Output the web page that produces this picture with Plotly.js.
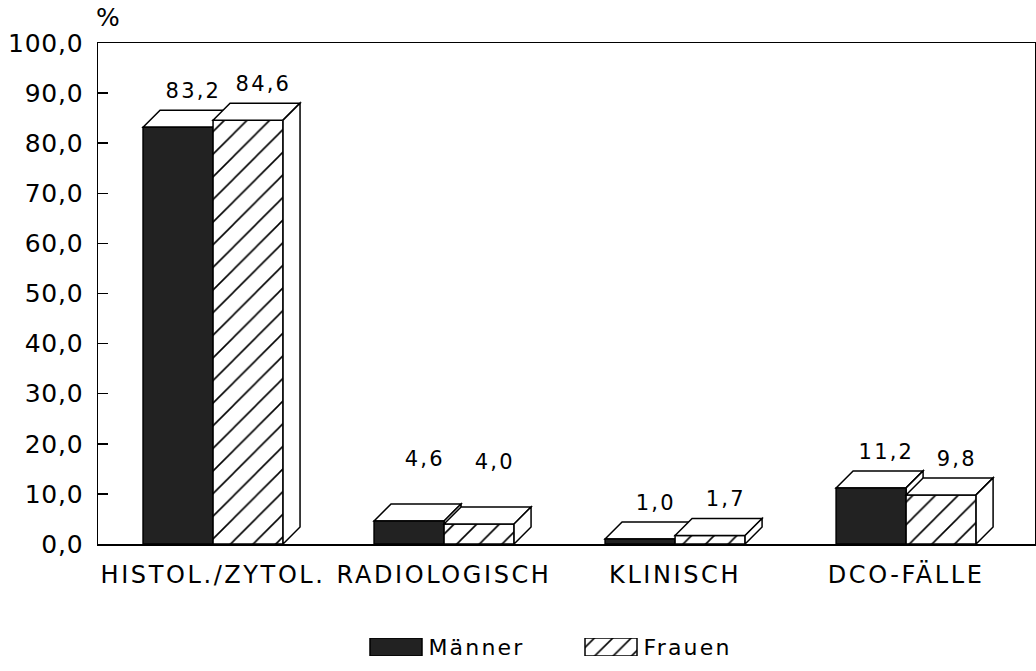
<!DOCTYPE html>
<html>
<head>
<meta charset="utf-8">
<script src="https://cdn.plot.ly/plotly-3.0.1.min.js"></script>
<style>
  html, body { margin: 0; padding: 0; background: #fff; }
  #chart { width: 1036px; height: 671px; }
  #chart .xtick text { letter-spacing: 2.6px; }
  #chart .ytick text { letter-spacing: 0.8px; }
  #chart .annotation-text { letter-spacing: 2.2px; }
</style>
</head>
<body>
<div id="chart"></div>
<script>
// ---- data ----
const categories = ['HISTOL./ZYTOL.', 'RADIOLOGISCH', 'KLINISCH', 'DCO-FÄLLE'];
const maenner = [83.2, 4.6, 1.0, 11.2];
const frauen  = [84.6, 4.0, 1.7, 9.8];
const seriesNames = ['Männer', 'Frauen'];

// ---- geometry / style ----
const W = 1036, H = 671;
const M = {l: 98, r: 1, t: 43, b: 11};
const plotW = W - M.l - M.r, plotH = H - M.t - M.b;
const xRange = [-0.498, 3.558];
const yRange = [0, 100];
const yDomain = [(H - M.b - 544) / plotH, 1];
const barW = 0.303;                 // bar width in category units
const depthPx = 17;                 // 3D depth in pixels
const pxPerX = plotW / (xRange[1] - xRange[0]);
const pxPerY = plotH * (yDomain[1] - yDomain[0]) / (yRange[1] - yRange[0]);
const dx = depthPx / pxPerX, dy = depthPx / pxPerY;
const labelLift = [0, 26, 0, 0];    // extra label lift per category (px)
const FONT = 'DejaVu Sans, Liberation Sans, sans-serif';
const darkFill = '#222222';
const lineW = 1.5;

const idx = categories.map((_, i) => i);
const fmt = v => v.toFixed(1).replace('.', ',');

const traces = [
  {
    type: 'bar', name: seriesNames[0], x: idx, y: maenner,
    width: barW, offset: -barW, xaxis: 'x', yaxis: 'y',
    marker: {color: darkFill, line: {color: '#000', width: lineW}},
    showlegend: false, hoverinfo: 'skip'
  },
  {
    type: 'bar', name: seriesNames[1], x: idx, y: frauen,
    width: barW, offset: 0, xaxis: 'x', yaxis: 'y',
    marker: {color: '#fff', line: {color: '#000', width: lineW},
             pattern: {shape: '/', fgcolor: '#000', bgcolor: '#fff', size: 16, solidity: 0.1}},
    showlegend: false, hoverinfo: 'skip'
  }
];

// 3D faces
function faces(vals, left, layer) {
  const out = [];
  vals.forEach((v, i) => {
    const x0 = i + left, x1 = x0 + barW;
    const top = `M${x0},${v} L${x1},${v} L${x1 + dx},${v + dy} L${x0 + dx},${v + dy} Z`;
    const side = `M${x1},0 L${x1 + dx},${dy} L${x1 + dx},${v + dy} L${x1},${v} Z`;
    [top, side].forEach(p => out.push({
      type: 'path', path: p, xref: 'x', yref: 'y', layer: layer,
      fillcolor: '#fff', line: {color: '#000', width: lineW}
    }));
  });
  return out;
}
const shapes = [].concat(faces(maenner, -barW, 'below'), faces(frauen, 0, 'above'));

// value labels
const annotations = [];
[[maenner, -barW / 2], [frauen, barW / 2]].forEach(([vals, c]) => {
  vals.forEach((v, i) => annotations.push({
    x: i + c, y: v + dy, xref: 'x', yref: 'y', text: fmt(v),
    showarrow: false, xanchor: 'center', yanchor: 'bottom',
    xshift: 15, yshift: 5 + labelLift[i],
    font: {family: FONT, size: 21, color: '#000'}
  }));
});
// "%" unit label
annotations.push({
  x: 0, y: 1, xref: 'paper', yref: 'paper', text: '%', showarrow: false,
  xanchor: 'left', yanchor: 'bottom', xshift: -3, yshift: 9,
  font: {family: FONT, size: 25, color: '#000'}
});

// custom legend (boxes drawn as bars in a small helper subplot)
const legendCenters = [396, 611];   // legend box centres in px
const legendBoxW = 52;
traces.push({
  type: 'bar', x: [legendCenters[0]], y: [1], width: legendBoxW, base: 0,
  xaxis: 'x2', yaxis: 'y2', showlegend: false, hoverinfo: 'skip',
  marker: {color: darkFill, line: {color: '#000', width: lineW}}
});
traces.push({
  type: 'bar', x: [legendCenters[1]], y: [1], width: legendBoxW, base: 0,
  xaxis: 'x2', yaxis: 'y2', showlegend: false, hoverinfo: 'skip',
  marker: {color: '#fff', line: {color: '#000', width: lineW},
           pattern: {shape: '/', fgcolor: '#000', bgcolor: '#fff', size: 13, solidity: 0.12}}
});
seriesNames.forEach((n, k) => annotations.push({
  x: legendCenters[k] + legendBoxW / 2, y: 0.5, xref: 'x2', yref: 'y2',
  text: n, showarrow: false, xanchor: 'left', yanchor: 'middle', xshift: 11,
  font: {family: FONT, size: 22, color: '#000'}
}));

const layout = {
  width: W, height: H, margin: M,
  paper_bgcolor: '#fff', plot_bgcolor: 'rgba(0,0,0,0)',
  separators: ',.', barmode: 'overlay', showlegend: false,
  font: {family: FONT, color: '#000'},
  xaxis: {
    domain: [0, 1], anchor: 'y', range: xRange,
    tickvals: idx, ticktext: categories, ticks: '',
    showline: true, mirror: true, linecolor: '#000', linewidth: lineW,
    showgrid: false, zeroline: false, ticklabelstandoff: 9,
    tickfont: {family: FONT, size: 24, color: '#000'}
  },
  yaxis: {
    domain: yDomain, anchor: 'x', range: yRange, dtick: 10, tickformat: '.1f',
    ticks: 'inside', ticklen: 10, tickwidth: lineW, tickcolor: '#000',
    showline: true, mirror: true, linecolor: '#000', linewidth: lineW,
    showgrid: false, zeroline: false, ticklabelstandoff: 8,
    tickfont: {family: FONT, size: 25, color: '#000'}
  },
  xaxis2: {domain: [0, 1], anchor: 'y2', range: [M.l, W - M.r], visible: false, fixedrange: true},
  yaxis2: {domain: [(H - M.b - 656) / plotH, (H - M.b - 638) / plotH], anchor: 'x2',
           range: [0, 1], visible: false, fixedrange: true},
  shapes: shapes,
  annotations: annotations
};

Plotly.newPlot('chart', traces, layout, {displayModeBar: false, staticPlot: true});
</script>
</body>
</html>
